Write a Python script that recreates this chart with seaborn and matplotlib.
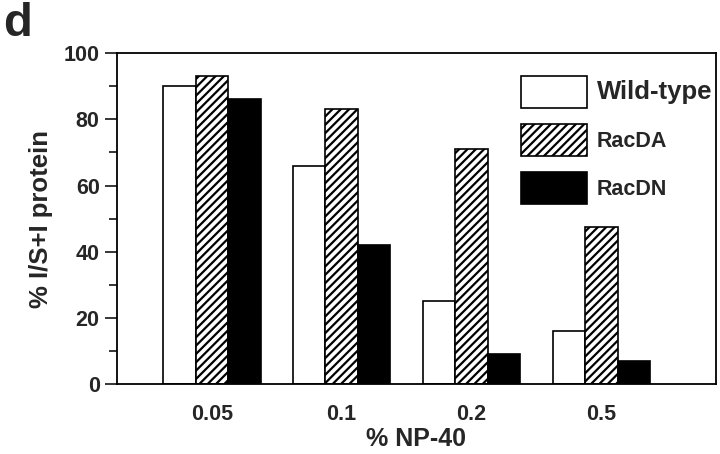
import pandas as pd
import matplotlib
matplotlib.use('Agg')
import matplotlib.pyplot as plt
import seaborn as sns

# data
np40 = ['0.05', '0.1', '0.2', '0.5']
groups = ['Wild-type', 'RacDA', 'RacDN']
wild_type = [90, 66, 25, 16]
rac_da = [93, 83, 71, 47.5]
rac_dn = [86, 42, 9, 7]

df = pd.DataFrame({
    'np40': np40 * 3,
    'group': [g for g in groups for _ in np40],
    'value': wild_type + rac_da + rac_dn,
})

sns.set_theme(style='ticks')
plt.rcParams['font.family'] = ['Liberation Sans', 'DejaVu Sans']
plt.rcParams['font.weight'] = 'bold'
plt.rcParams['hatch.linewidth'] = 1.6

fig = plt.figure(figsize=(7.2, 4.54), dpi=100)
ax = fig.add_axes([0.1625, 0.154, 0.8315, 0.729])

sns.barplot(data=df, x='np40', y='value', hue='group', order=np40, hue_order=groups,
            palette=['white', 'white', 'black'], width=0.75, edgecolor='black',
            linewidth=1.2, saturation=1, ax=ax)

# hatch the RacDA bars (containers follow hue order)
for i, cont in enumerate(ax.containers):
    for bar in cont:
        if i == 1:
            bar.set_hatch('////')
        bar.set_edgecolor('black')

ax.set_xlim(-0.73, 3.88)
ax.set_ylim(0, 100)
ax.set_yticks([0, 20, 40, 60, 80, 100])
ax.set_yticks([10, 30, 50, 70, 90], minor=True)
ax.tick_params(axis='y', which='major', length=9, width=1.3, labelsize=15.5)
ax.tick_params(axis='y', which='minor', length=6, width=1.3)
ax.tick_params(axis='x', length=0, labelsize=15.5, pad=14)
for lbl in ax.get_xticklabels() + ax.get_yticklabels():
    lbl.set_fontweight('bold')
for sp in ax.spines.values():
    sp.set_linewidth(1.3)
    sp.set_color('black')

ax.set_xlabel('% NP-40', fontsize=18, fontweight='bold', labelpad=2)
ax.set_ylabel('% I/S+I protein', fontsize=18.5, fontweight='bold', labelpad=8)

handles, labels = ax.get_legend_handles_labels()
leg = ax.legend(handles, labels, loc='upper right', frameon=False, fontsize=15.5,
                handlelength=3.1, handleheight=1.9, labelspacing=0.76,
                handletextpad=0.45, bbox_to_anchor=(1.027, 0.99))
for h in leg.legend_handles:
    h.set_edgecolor('black')
leg.legend_handles[1].set_hatch('////')
for t in leg.get_texts():
    t.set_fontweight('bold')
leg.get_texts()[0].set_fontsize(18.5)

fig.text(0.004, 0.995, 'd', fontsize=34, fontweight='bold', va='top', ha='left')

fig.savefig('out.png', dpi=100)
